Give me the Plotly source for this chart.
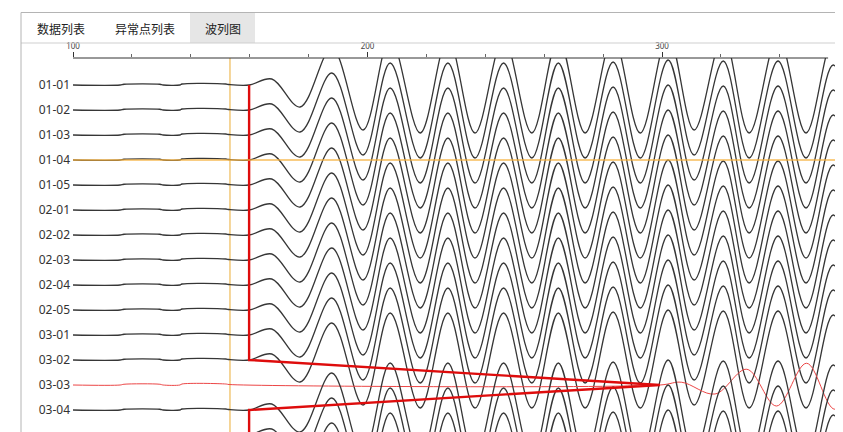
import plotly.graph_objects as go

# ---------------- data ----------------
trace_labels = ["01-01", "01-02", "01-03", "01-04", "01-05",
                "02-01", "02-02", "02-03", "02-04", "02-05",
                "03-01", "03-02", "03-03", "03-04", "03-05", "04-01"]
pick_times = [159.8, 159.8, 159.8, 159.8, 159.8,
              159.8, 159.8, 159.8, 159.8, 159.8,
              159.8, 159.8, 299.3, 159.8, 159.8, 159.8]
highlight_trace = "03-03"      # drawn in red
selected_trace = "01-04"       # horizontal cursor
cursor_time = 153.3            # vertical cursor

# small pre-arrival noise (time, amplitude in trace spacings)
noise_times = [100.0, 116.0, 117.3, 129.5, 130.6, 136.3, 137.0, 151.9, 153.0]
noise_amps = [0.0, 0.0, 0.03, 0.03, 0.0, 0.0, 0.04, 0.04, 0.02]

# black waveform extrema, time after pick and amplitude (trace spacings)
wave_offsets = [0.0, 7.7, 17.3, 28.1, 38.7, 47.9, 58.1, 67.5, 76.7, 86.4, 96.0,
                105.0, 114.1, 123.6, 132.8, 142.3, 151.1, 161.0, 169.8, 179.6,
                189.1, 198.3, 207.5]
wave_amps = [0.0, 0.24, -0.88, 1.48, -1.80, 1.88, -1.92, 1.88, -1.92, 1.88, -1.92,
             1.88, -1.92, 1.92, -1.92, 2.00, -1.80, 1.96, -1.92, 1.96,
             -1.92, 1.80, -1.92]

# red (03-03) waveform extrema
red_offsets = [0.0, 7.4, 18.7, 29.5, 39.6, 49.8, 59.4, 69.6]
red_amps = [0.0, 0.11, -0.36, 0.63, -0.84, 0.87, -0.97, 1.00]

x_ticks = [100, 200, 300]
x_minor_ticks = [120, 140, 160, 180, 220, 240, 260, 280, 320, 340]
x_axis_end = 356.4
tab_names = ["数据列表", "异常点列表", "波列图"]
active_tab = "波列图"

# ---------------- layout geometry ----------------
# page body has an 8px margin; figure drawn in page coordinates shifted by it
BODY = 8
PAGE_W, PAGE_H = 843, 432
W, H = PAGE_W, PAGE_H - BODY
ML, MT = 73 - BODY, 58 - BODY
PW, PH = W - ML, H - MT
X_RANGE = [100, 100 + PW / 2.945]
Y_RANGE = [(PAGE_H - 85) / 25.0, (58 - 85) / 25.0]   # reversed: trace index downward


def px(xp):  # page x pixel -> paper
    return (xp - 73) / PW


def py(yp):  # page y pixel -> paper
    return (PAGE_H - yp) / PH


fig = go.Figure()

BLACK = "#363636"
RED_TRACE = "rgb(236,70,70)"
RED_PICK = "rgb(222,12,12)"

for i, (lab, pick) in enumerate(zip(trace_labels, pick_times)):
    red = lab == highlight_trace
    offs = red_offsets if red else wave_offsets
    amps = red_amps if red else wave_amps
    xs = [t for t in noise_times if t < pick] + [pick + o for o in offs]
    ys = [i - a for t, a in zip(noise_times, noise_amps) if t < pick] + [i - a for a in amps]
    fig.add_trace(go.Scatter(
        x=xs, y=ys, mode="lines",
        line=dict(color=RED_TRACE if red else BLACK, width=1.0 if red else 1.3,
                  shape="spline", smoothing=1.0),
        hoverinfo="skip"))

# pick line
fig.add_trace(go.Scatter(
    x=pick_times, y=list(range(len(pick_times))), mode="lines",
    line=dict(color=RED_PICK, width=2.4), hoverinfo="skip"))

shapes = []
# cursors
shapes.append(dict(type="line", xref="x", yref="paper", x0=cursor_time, x1=cursor_time,
                   y0=0, y1=1, line=dict(color="rgb(242,200,120)", width=1.5), layer="below"))
sel = trace_labels.index(selected_trace)
shapes.append(dict(type="line", xref="paper", yref="y", x0=0, x1=1, y0=sel, y1=sel,
                   line=dict(color="rgba(246,176,60,0.85)", width=1.5), layer="above"))
# axis line
shapes.append(dict(type="line", xref="x", yref="paper", x0=X_RANGE[0], x1=x_axis_end,
                   y0=1, y1=1, line=dict(color="#333333", width=1)))
# frame & tab bar
shapes.append(dict(type="rect", xref="paper", yref="paper", x0=px(190), x1=px(255),
                   y0=py(43), y1=py(12.5), fillcolor="#e6e6e6", line=dict(width=0)))
shapes.append(dict(type="line", xref="paper", yref="paper", x0=px(21), x1=px(860),
                   y0=py(12.5), y1=py(12.5), line=dict(color="#b4b4b4", width=1)))
shapes.append(dict(type="line", xref="paper", yref="paper", x0=px(21), x1=px(860),
                   y0=py(43), y1=py(43), line=dict(color="#cfcfcf", width=1)))
shapes.append(dict(type="line", xref="paper", yref="paper", x0=px(21), x1=px(21),
                   y0=py(12.5), y1=py(432), line=dict(color="#b4b4b4", width=1)))

annotations = []
for name, cx in zip(tab_names, [60.5, 145, 222.5]):
    annotations.append(dict(xref="paper", yref="paper", x=px(cx), y=py(28.5),
                            text=name, showarrow=False, xanchor="center", yanchor="middle",
                            font=dict(size=12, color="#222222",
                                      family="Noto Sans CJK SC")))

fig.update_layout(
    width=W, height=H,
    margin=dict(l=ML, r=0, t=MT, b=0, pad=0),
    paper_bgcolor="white", plot_bgcolor="white",
    showlegend=False,
    shapes=shapes, annotations=annotations,
    font=dict(family="Noto Sans, Noto Sans CJK SC", color="#333333"),
    xaxis=dict(range=X_RANGE, side="top", showgrid=False, zeroline=False, showline=False,
               tickmode="array", tickvals=x_ticks, ticktext=[str(v) for v in x_ticks],
               ticks="outside", ticklen=5, tickwidth=1, tickcolor="#333333",
               tickfont=dict(size=8, color="#444444"),
               minor=dict(tickmode="array", tickvals=x_minor_ticks, ticks="outside",
                          ticklen=3, tickwidth=1, tickcolor="#666666", showgrid=False)),
    yaxis=dict(range=Y_RANGE, showgrid=False, zeroline=False, showline=False,
               tickmode="array", tickvals=list(range(len(trace_labels))),
               ticktext=trace_labels, ticks="", ticklabelstandoff=2,
               tickfont=dict(size=12, color="#333333")),
)

fig.write_html("out.html")
